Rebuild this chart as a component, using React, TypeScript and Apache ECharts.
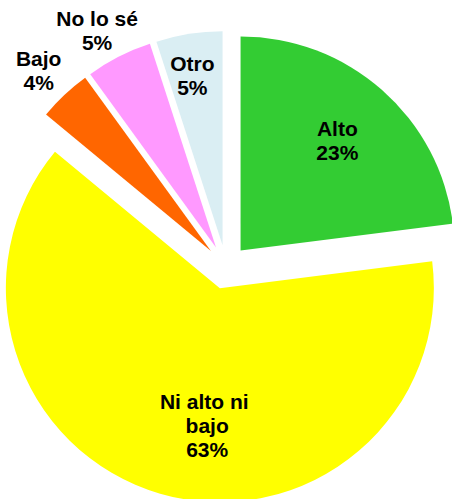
import React, { useEffect, useRef } from 'react';
import * as echarts from 'echarts';

const categories = ['Alto', 'Ni alto ni bajo', 'Bajo', 'No lo sé', 'Otro'];
const values = [23, 63, 4, 5, 5];
const colors = ['#33CC33', '#FFFF00', '#FF6600', '#FF99FF', '#DAEEF3'];

const labelShift: number[][] = [
  [24, -27],
  [18, 32],
  [-97, -100],
  [-69, -119],
  [-13, -61],
];

export default function App() {
  const ref = useRef<HTMLDivElement>(null);
  useEffect(() => {
    if (!ref.current) return;
    const chart = echarts.init(ref.current, null, { renderer: 'svg' });
    chart.setOption({
      animation: false,
      backgroundColor: '#ffffff',
      series: [
        {
          type: 'pie',
          center: [226, 267],
          radius: 214,
          startAngle: 90,
          clockwise: true,
          selectedMode: 'multiple',
          selectedOffset: 22,
          silent: true,
          avoidLabelOverlap: false,
          emphasis: { disabled: true },
          data: categories.map((n, i) => ({
            name: n,
            value: values[i],
            selected: true,
            itemStyle: { color: colors[i] },
            select: { itemStyle: { color: colors[i] } },
          })),
          label: {
            show: true,
            position: 'inside',
            formatter: '{b}\n{c}%',
            fontFamily: 'Liberation Sans, Arial, sans-serif',
            fontWeight: 'bold',
            fontSize: 21,
            lineHeight: 24,
            color: '#000',
            width: 105,
            overflow: 'break',
            align: 'center',
          },
          labelLine: { show: false },
          labelLayout: (p: any) => ({
            dx: labelShift[p.dataIndex][0],
            dy: labelShift[p.dataIndex][1],
          }),
        },
      ],
    });
    return () => chart.dispose();
  }, []);
  return (
    <div
      ref={ref}
      style={{ position: 'absolute', left: 0, top: 0, width: 452, height: 499 }}
    />
  );
}
